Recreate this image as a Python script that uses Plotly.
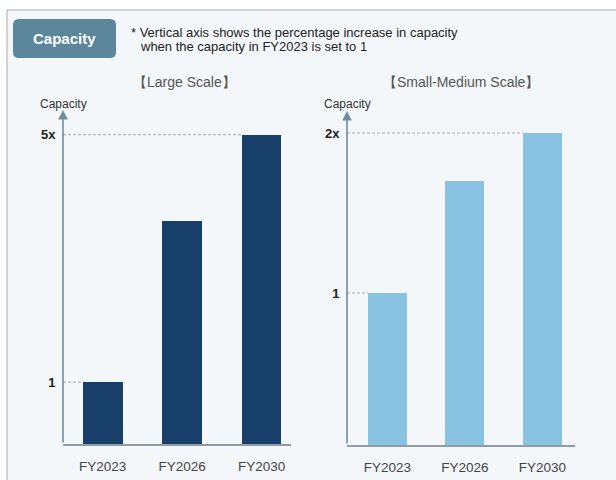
import plotly.graph_objects as go

# ---- data -------------------------------------------------------------
years = ["FY2023", "FY2026", "FY2030"]
large_scale = [1, 3.6, 5]
small_medium_scale = [1, 1.7, 2]

large_tickvals = [1, 5]
large_ticktext = ["1", "5x"]
small_tickvals = [1, 2]
small_ticktext = ["1", "2x"]

panel_titles = ["\u3010Large Scale\u3011", "\u3010Small-Medium Scale\u3011"]
axis_label = "Capacity"
badge_text = "Capacity"
note_lines = [
    "* Vertical axis shows the percentage increase in capacity",
    "when the capacity in FY2023 is set to 1",
]

# ---- styling ----------------------------------------------------------
W, H = 616, 480
FONT = "Liberation Sans, Arial, sans-serif"
DARK_BAR = "#173f69"
LIGHT_BAR = "#89c3e2"
PANEL_BG = "#f3f7fa"
ARROW_COLOR = "#6c8ea3"
BASE_COLOR = "#8e9ca7"
DASH_COLOR = "#a8a8a8"
BAR_W = 0.5


def px_x(p):
    return p / W


def px_y(p):
    return 1 - p / H


x_idx = list(range(len(years)))

fig = go.Figure()

panels = [
    dict(values=large_scale, color=DARK_BAR, tickvals=large_tickvals,
         ticktext=large_ticktext, xdom=(63, 291), ydom=(444, 110),
         xrange=[-0.5, 2.37], yrange=[0, 5.4], title=panel_titles[0],
         title_x=184, xa="x", ya="y"),
    dict(values=small_medium_scale, color=LIGHT_BAR, tickvals=small_tickvals,
         ticktext=small_ticktext, xdom=(347, 575), ydom=(445, 111),
         xrange=[-0.52, 2.42], yrange=[0.05, 2.1375], title=panel_titles[1],
         title_x=461, xa="x2", ya="y2"),
]

shapes = []
annotations = []

# outer panel frame
shapes.append(dict(type="rect", xref="paper", yref="paper",
                   x0=px_x(7), x1=px_x(630), y0=px_y(10), y1=px_y(495),
                   fillcolor=PANEL_BG, line=dict(color="#a9a9a9", width=1),
                   layer="below"))

# rounded badge in the header
bx0, bx1, by0, by1, r = 13, 116, 19, 58, 6
path = (
    f"M {px_x(bx0 + r)},{px_y(by0)} L {px_x(bx1 - r)},{px_y(by0)} "
    f"Q {px_x(bx1)},{px_y(by0)} {px_x(bx1)},{px_y(by0 + r)} "
    f"L {px_x(bx1)},{px_y(by1 - r)} "
    f"Q {px_x(bx1)},{px_y(by1)} {px_x(bx1 - r)},{px_y(by1)} "
    f"L {px_x(bx0 + r)},{px_y(by1)} "
    f"Q {px_x(bx0)},{px_y(by1)} {px_x(bx0)},{px_y(by1 - r)} "
    f"L {px_x(bx0)},{px_y(by0 + r)} "
    f"Q {px_x(bx0)},{px_y(by0)} {px_x(bx0 + r)},{px_y(by0)} Z"
)
shapes.append(dict(type="path", xref="paper", yref="paper", path=path,
                   fillcolor="#5b869c", line=dict(width=0), layer="below"))
annotations.append(dict(text=f"<b>{badge_text}</b>", xref="paper", yref="paper",
                        x=px_x((bx0 + bx1) / 2), y=px_y((by0 + by1) / 2),
                        showarrow=False, xanchor="center", yanchor="middle",
                        font=dict(family=FONT, size=15, color="white")))

annotations.append(dict(text=note_lines[0], xref="paper", yref="paper",
                        x=px_x(129), y=px_y(33), showarrow=False,
                        xanchor="left", yanchor="middle",
                        font=dict(family=FONT, size=13, color="#222222")))
annotations.append(dict(text=note_lines[1], xref="paper", yref="paper",
                        x=px_x(138), y=px_y(47), showarrow=False,
                        xanchor="left", yanchor="middle",
                        font=dict(family=FONT, size=13, color="#222222")))

layout_axes = {}
for k, p in enumerate(panels):
    xa, ya = p["xa"], p["ya"]
    fig.add_trace(go.Bar(x=x_idx, y=p["values"], width=BAR_W,
                         marker=dict(color=p["color"], line=dict(width=0)),
                         xaxis=xa, yaxis=ya, showlegend=False,
                         hoverinfo="x+y"))

    xkey = "xaxis" if xa == "x" else "xaxis2"
    ykey = "yaxis" if ya == "y" else "yaxis2"
    layout_axes[xkey] = dict(
        domain=[px_x(p["xdom"][0]), px_x(p["xdom"][1])],
        range=p["xrange"], anchor=ya,
        tickvals=x_idx, ticktext=years,
        showgrid=False, zeroline=False,
        showline=True, linecolor=BASE_COLOR, linewidth=1.5,
        ticks="outside", ticklen=9, tickcolor="rgba(0,0,0,0)",
        tickfont=dict(family=FONT, size=13.5, color="#444444"),
        fixedrange=True,
    )
    layout_axes[ykey] = dict(
        domain=[px_y(p["ydom"][0]), px_y(p["ydom"][1])],
        range=p["yrange"], anchor=xa,
        tickvals=p["tickvals"],
        ticktext=[f"<b>{t}</b>" for t in p["ticktext"]],
        showgrid=False, zeroline=False, showline=False,
        ticks="outside", ticklen=4, tickcolor="rgba(0,0,0,0)",
        tickfont=dict(family=FONT, size=13, color="#222222"),
        fixedrange=True,
    )

    # vertical value axis drawn as an arrow
    x_axis_pos = p["xrange"][0]
    annotations.append(dict(x=x_axis_pos, y=p["yrange"][1], xref=xa, yref=ya,
                            ax=x_axis_pos, ay=p["yrange"][0], axref=xa,
                            ayref=ya, text="", showarrow=True, arrowhead=2,
                            arrowsize=1.2, arrowwidth=1.6,
                            arrowcolor=ARROW_COLOR, standoff=0))
    annotations.append(dict(text=axis_label, xref=xa, yref="paper",
                            x=x_axis_pos, y=px_y(104), showarrow=False,
                            xanchor="center", yanchor="middle",
                            font=dict(family=FONT, size=12, color="#333333")))
    annotations.append(dict(text=p["title"], xref="paper", yref="paper",
                            x=px_x(p["title_x"]), y=px_y(82), showarrow=False,
                            xanchor="center", yanchor="middle",
                            font=dict(family=FONT, size=14, color="#555555")))

    # dashed guide from the axis to the bar that reaches each labelled level
    for v in p["tickvals"]:
        for i, val in enumerate(p["values"]):
            if val == v:
                shapes.append(dict(type="line", xref=xa, yref=ya,
                                   x0=x_axis_pos, x1=i - BAR_W / 2,
                                   y0=v, y1=v,
                                   line=dict(color=DASH_COLOR, width=1,
                                             dash="3px,2px")))

fig.update_layout(
    width=W, height=H,
    margin=dict(l=0, r=0, t=0, b=0),
    paper_bgcolor="white",
    plot_bgcolor="rgba(0,0,0,0)",
    bargap=0,
    shapes=shapes,
    annotations=annotations,
    **layout_axes,
)

fig.write_html("out.html", config={"displayModeBar": False})
